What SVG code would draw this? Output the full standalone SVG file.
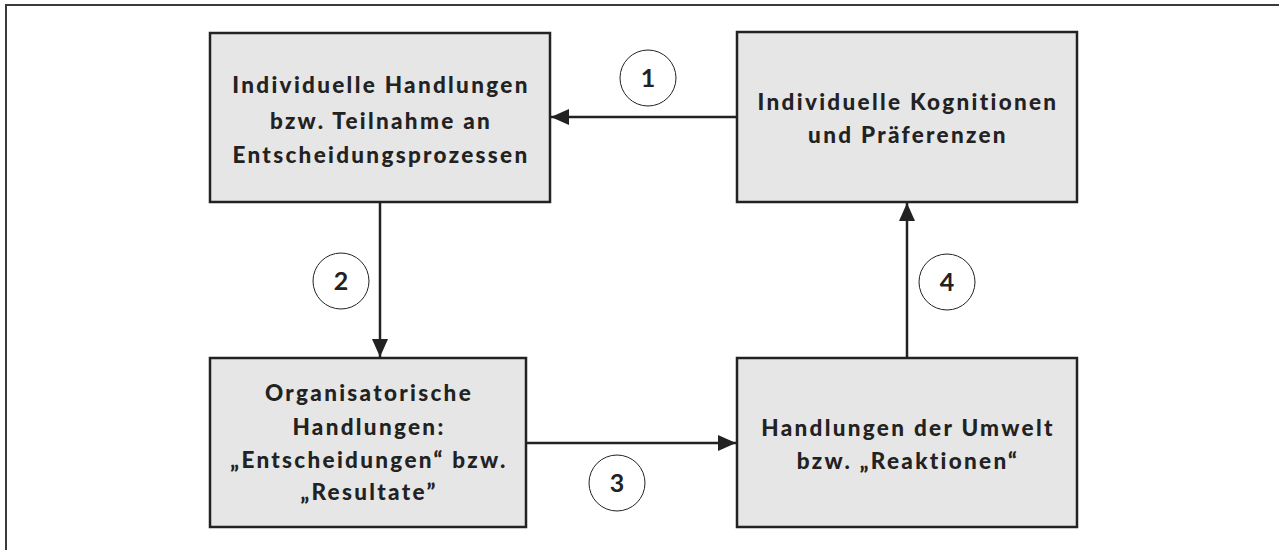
<svg xmlns="http://www.w3.org/2000/svg" width="1279" height="550" viewBox="0 0 1279 550">
  <style>
    .box { fill: #e6e6e6; stroke: #222; stroke-width: 2.5; }
    .lbl { font-family: Lato, "Liberation Sans", sans-serif; font-weight: 900; font-size: 22.5px; letter-spacing: 2.3px; fill: #222; text-anchor: middle; }
    .edge { stroke: #222; stroke-width: 2.5; fill: none; }
    .num { fill: #fff; stroke: #222; stroke-width: 1; }
    .numtxt { font-family: Lato, "Liberation Sans", sans-serif; font-weight: bold; font-size: 25px; fill: #222; text-anchor: middle; }
  </style>
  <defs>
    <marker id="arrow" viewBox="0 0 18 16" refX="18" refY="8" markerWidth="18" markerHeight="16" markerUnits="userSpaceOnUse" orient="auto">
      <path d="M0,0 L18,8 L0,16 Z" fill="#222"/>
    </marker>
  </defs>
  <rect width="1279" height="550" fill="#fff"/>
  <!-- outer frame -->
  <path d="M6,550 V5 H1279" fill="none" stroke="#3a3a3a" stroke-width="2"/>

  <g id="connectors">
    <line class="edge" x1="737" y1="117" x2="551" y2="117" marker-end="url(#arrow)"/>
    <line class="edge" x1="380" y1="202" x2="380" y2="357" marker-end="url(#arrow)"/>
    <line class="edge" x1="526" y1="443" x2="736" y2="443" marker-end="url(#arrow)"/>
    <line class="edge" x1="907" y1="358" x2="907" y2="203" marker-end="url(#arrow)"/>
    <g id="step1"><circle class="num" cx="648" cy="78" r="28"/><text class="numtxt" x="648" y="87">1</text></g>
    <g id="step2"><circle class="num" cx="341" cy="281" r="28"/><text class="numtxt" x="341" y="290">2</text></g>
    <g id="step3"><circle class="num" cx="617" cy="483" r="28"/><text class="numtxt" x="617" y="492">3</text></g>
    <g id="step4"><circle class="num" cx="947" cy="282" r="28"/><text class="numtxt" x="947" y="291">4</text></g>
  </g>

  <g id="individuelle-handlungen">
    <rect class="box" x="210" y="33" width="340" height="169"/>
    <text class="lbl" x="381" y="93">Individuelle Handlungen</text>
    <text class="lbl" x="381" y="129">bzw. Teilnahme an</text>
    <text class="lbl" x="381" y="163">Entscheidungsprozessen</text>
  </g>

  <g id="kognitionen">
    <rect class="box" x="737" y="32" width="340" height="170"/>
    <text class="lbl" x="908" y="110">Individuelle Kognitionen</text>
    <text class="lbl" x="908" y="143">und Präferenzen</text>
  </g>

  <g id="organisatorische-handlungen">
    <rect class="box" x="210" y="358" width="316" height="169"/>
    <text class="lbl" x="369" y="401">Organisatorische</text>
    <text class="lbl" x="369" y="435">Handlungen:</text>
    <text class="lbl" x="369" y="468">„Entscheidungen“ bzw.</text>
    <text class="lbl" x="369" y="500">„Resultate”</text>
  </g>

  <g id="umwelt">
    <rect class="box" x="737" y="358" width="340" height="169"/>
    <text class="lbl" x="908" y="436">Handlungen der Umwelt</text>
    <text class="lbl" x="908" y="469">bzw. „Reaktionen“</text>
  </g>
</svg>
